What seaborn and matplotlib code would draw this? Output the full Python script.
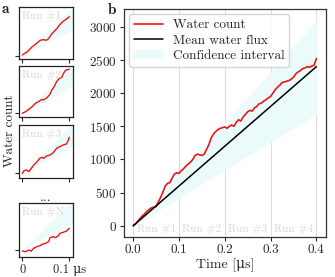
import numpy as np
import pandas as pd
import matplotlib as mpl
mpl.use("Agg")
import matplotlib.pyplot as plt
import seaborn as sns

# main panel (b): concatenated water count over the four runs
time_us = np.round(np.arange(0, 0.4001, 0.005), 3)
water_count = [
    0, 30, 70, 110, 150, 180, 220, 250, 270, 280,
    290, 360, 430, 510, 600, 640, 650, 720, 780, 800,
    790, 830, 860, 900, 930, 960, 1000, 1060, 1080, 1070,
    1060, 1080, 1150, 1220, 1320, 1380, 1420, 1450, 1470, 1480,
    1490, 1470, 1500, 1520, 1500, 1560, 1600, 1580, 1640, 1680,
    1720, 1740, 1730, 1780, 1800, 1840, 1850, 1880, 1900, 1930,
    1950, 2000, 2050, 2090, 2120, 2160, 2170, 2180, 2190, 2210,
    2240, 2290, 2320, 2340, 2370, 2380, 2400, 2390, 2410, 2420,
    2520,
]
mean_flux = 6000       # water molecules per us
flux_upper = 7750
flux_lower = 4200
run_labels = ["Run #1", "Run #2", "Run #3", "Run #4"]
run_centers = [0.05, 0.15, 0.25, 0.35]

# small panels (a): one water count trace per run
panel_names = ["Run #1", "Run #2", "Run #3", "Run #N"]
panel_t = [
    [0, 0.0105, 0.021, 0.0315, 0.038, 0.045, 0.051, 0.056, 0.063, 0.073, 0.080, 0.087, 0.094, 0.1],
    [0, 0.007, 0.014, 0.021, 0.028, 0.035, 0.042, 0.045, 0.051, 0.058, 0.063, 0.068, 0.073, 0.079, 0.084, 0.087, 0.091, 0.094, 0.1],
    [0, 0.0035, 0.009, 0.014, 0.0175, 0.0245, 0.0315, 0.037, 0.042, 0.045, 0.052, 0.059, 0.066, 0.073, 0.080, 0.087, 0.094, 0.0975, 0.1],
    [0, 0.007, 0.014, 0.019, 0.024, 0.031, 0.038, 0.042, 0.049, 0.056, 0.059, 0.066, 0.070, 0.077, 0.080, 0.087, 0.094, 0.1],
]
panel_counts = [
    [17, 73, 157, 224, 269, 280, 269, 297, 381, 465, 538, 594, 633, 672],
    [0, 28, 67, 112, 168, 196, 235, 224, 252, 308, 392, 448, 532, 588, 605, 661, 711, 728, 739],
    [0, 45, 56, 28, 67, 140, 196, 252, 269, 252, 291, 308, 347, 420, 448, 476, 493, 549, 605],
    [-17, -28, 0, -17, 28, 56, 73, 95, 112, 140, 207, 224, 207, 241, 280, 297, 319, 364],
]
panel_ylims = [(-56, 840), (-67, 795), (-84, 812), (-112, 784)]

sns.set_theme(style="ticks")
plt.rcParams["font.family"] = ["cmr10", "DejaVu Serif"]
plt.rcParams["axes.formatter.use_mathtext"] = True
plt.rcParams["mathtext.fontset"] = "cm"

red = "#ee1418"
cyan = "#ebfbfb"
grey_txt = "#d6d6d6"

fig = plt.figure(figsize=(3.35, 2.77), dpi=100)

# ---- panel b
ax = fig.add_axes([0.369, 0.1455, 0.604, 0.822])
df = pd.DataFrame({"t": time_us, "count": water_count})
t_fit = np.array([0, 0.4])
ax.fill_between(t_fit, flux_lower * t_fit, flux_upper * t_fit, color=cyan, lw=0,
                label="Confidence interval")
sns.lineplot(data=df, x="t", y="count", color=red, lw=1.2, ax=ax, label="Water count")
sns.lineplot(x=t_fit, y=mean_flux * t_fit, color="black", lw=1.1, ax=ax, label="Mean water flux")
ax.set_xlim(-0.021, 0.421)
ax.set_ylim(-165, 3270)
ax.set_xticks([0, 0.1, 0.2, 0.3, 0.4])
ax.set_xticklabels(["0.0", "0.1", "0.2", "0.3", "0.4"])
ax.set_yticks([0, 500, 1000, 1500, 2000, 2500, 3000])
ax.tick_params(labelsize=9.5, length=3, width=0.8, pad=2)
ax.grid(axis="x", color="#dddddd", lw=0.8)
ax.set_axisbelow(True)
for s in ax.spines.values():
    s.set_color("#333333")
    s.set_linewidth(0.9)
ax.set_xlabel("Time [μs]", fontsize=10, labelpad=2)
ax.set_ylabel("")
for lab, c in zip(run_labels, run_centers):
    ax.text(c, -55, lab, color=grey_txt, fontsize=8, ha="center", va="center")
h, l = ax.get_legend_handles_labels()
order = [l.index("Water count"), l.index("Mean water flux"), l.index("Confidence interval")]
ax.legend([h[i] for i in order], [l[i] for i in order], loc="upper left", fontsize=9.5,
          frameon=True, borderaxespad=0.4, handlelength=2.2, labelspacing=0.25,
          borderpad=0.35, edgecolor="#cccccc")
fig.text(0.322, 0.963, "b", fontsize=11, family="cmb10", ha="left", va="center")

# ---- panels a
panel_boxes = [
    [0.0567, 0.786, 0.160, 0.189],
    [0.0567, 0.5765, 0.160, 0.1855],
    [0.0567, 0.356, 0.160, 0.193],
    [0.0567, 0.0733, 0.160, 0.1927],
]
for i, box in enumerate(panel_boxes):
    pa = fig.add_axes(box)
    tt = np.array([0, 0.107])
    pa.fill_between(tt, flux_lower * tt, flux_upper * tt, color=cyan, lw=0)
    sns.lineplot(x=panel_t[i], y=panel_counts[i], color=red, lw=1.0, ax=pa)
    pa.set_xlim(-0.007, 0.107)
    pa.set_ylim(*panel_ylims[i])
    pa.set_yticks([0])
    pa.set_yticklabels([])
    pa.set_xticks([0, 0.1])
    if i == 3:
        pa.set_xticklabels(["0", "0.1 μs"])
    else:
        pa.set_xticklabels([])
    pa.tick_params(labelsize=9, length=3, width=0.8, pad=2)
    for s in pa.spines.values():
        s.set_color("#222222")
        s.set_linewidth(0.9)
    pa.text(0.06, 0.83, panel_names[i], transform=pa.transAxes, color=grey_txt,
            fontsize=8, ha="left", va="center")

fig.text(0.135, 0.285, "...", fontsize=10, ha="center", va="center")
fig.text(0.03, 0.53, "Water count", fontsize=9.5, rotation=90, ha="center", va="center")
fig.text(0.005, 0.968, "a", fontsize=11, family="cmb10", ha="left", va="center")

fig.savefig("out.png", dpi=100)
